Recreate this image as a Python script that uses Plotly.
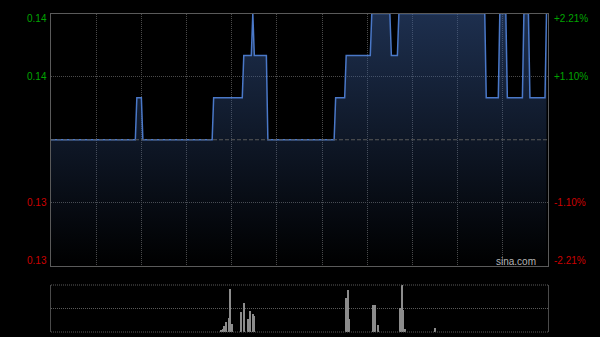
import plotly.graph_objects as go

# ---------------- data ----------------
prev_close = 0.136
price_high = 0.139
price_low = 0.133

# intraday minutes since open (0..330, HK session) and price at those vertices
minutes = [0, 56, 57, 60, 61, 107, 108, 127, 128, 133, 134, 135, 143, 144, 188,
           189, 195, 196, 212, 213, 225, 226, 230, 231, 288, 289, 297, 298, 302,
           303, 313, 314, 317, 318, 328, 329]
prices = [0.136, 0.136, 0.137, 0.137, 0.136, 0.136, 0.137, 0.137, 0.138, 0.138,
          0.139, 0.138, 0.138, 0.136, 0.136, 0.137, 0.137, 0.138, 0.138, 0.139,
          0.139, 0.138, 0.138, 0.139, 0.139, 0.137, 0.137, 0.139, 0.139, 0.137,
          0.137, 0.139, 0.139, 0.137, 0.137, 0.139]

vol_minutes = [113, 114, 115, 116, 118, 119, 120, 126, 128, 131, 132, 134, 135,
               196, 197, 198, 214, 215, 217, 232, 233, 234, 235, 255]
volumes = [13000, 30000, 60000, 97000, 137000, 430000, 83000, 200000, 287000,
           127000, 210000, 177000, 157000, 343000, 420000, 130000, 270000,
           270000, 70000, 240000, 470000, 220000, 30000, 37000]
volume_axis_max = 470000

session_minutes = 330
grid_minutes = [30, 60, 90, 120, 150, 180, 210, 240, 270, 300]
label_prices = [0.139, 0.1375, 0.1345, 0.133]
label_shift = [-5, 0, 0, 6]

# ---------------- figure ----------------
W, H = 600, 337
FONT = "Arial, Liberation Sans, sans-serif"
GREEN = "#00a400"
RED = "#cc0000"
GRID = "#4a4a4a"
DOT = "1px,1px"

x_dom = [51 / W, 548 / W]
price_dom = [(H - 266) / H, (H - 13.5) / H]
vol_dom = [(H - 332) / H, (H - 285) / H]

fig = go.Figure()
fig.add_trace(go.Scatter(
    x=minutes, y=prices, mode="lines",
    line=dict(color="#4a78c8", width=1.5),
    fill="tozeroy",
    fillgradient=dict(type="vertical",
                      colorscale=[[0, "rgba(56,90,150,0)"], [1, "rgba(56,90,150,0.52)"]],
                      start=price_low, stop=price_high),
    xaxis="x", yaxis="y", hoverinfo="skip"))

fig.add_trace(go.Bar(
    x=vol_minutes, y=volumes, width=0.7,
    marker=dict(color="#8c8c8c", line=dict(width=0)),
    xaxis="x2", yaxis="y2", hoverinfo="skip"))

fig.add_shape(type="line", xref="x domain", x0=0, x1=1, yref="y",
              y0=prev_close, y1=prev_close,
              line=dict(color="#5a5a5a", width=1, dash="4px,2px"), layer="above")
# top and bottom dotted frame of the volume panel
for yy in (0, 1):
    fig.add_shape(type="line", xref="x2 domain", x0=0, x1=1, yref="y2 domain",
                  y0=yy, y1=yy, line=dict(color="#5a5a5a", width=1, dash=DOT),
                  layer="above")

annotations = []
for p, s in zip(label_prices, label_shift):
    col = GREEN if p > prev_close else RED
    pct = (p - prev_close) / prev_close * 100
    annotations.append(dict(x=49 / W, xref="paper", y=p, yref="y", yshift=s,
                            text=f"{p:.2f}", showarrow=False, xanchor="right",
                            yanchor="middle", font=dict(family=FONT, size=10, color=col)))
    annotations.append(dict(x=552 / W, xref="paper", y=p, yref="y", yshift=s,
                            text=f"{pct:+.2f}%", showarrow=False, xanchor="left",
                            yanchor="middle", font=dict(family=FONT, size=10, color=col)))
annotations.append(dict(x=538 / W, xref="paper", y=(H - 261.5) / H, yref="paper",
                        text="sina.com", showarrow=False, xanchor="right",
                        yanchor="middle", font=dict(family=FONT, size=10, color="#b4b4b4")))

fig.update_layout(
    width=W, height=H,
    margin=dict(l=0, r=0, t=0, b=0),
    paper_bgcolor="#000000", plot_bgcolor="#000000",
    showlegend=False, bargap=0,
    annotations=annotations,
    xaxis=dict(domain=x_dom, range=[0, session_minutes], anchor="y",
               tickmode="array", tickvals=grid_minutes, showticklabels=False, ticks="",
               showgrid=True, gridcolor=GRID, griddash=DOT, gridwidth=1,
               zeroline=False, showline=True, mirror=True, linecolor="#5a5a5a", linewidth=1),
    yaxis=dict(domain=price_dom, range=[price_low, price_high], anchor="x",
               tickmode="array", tickvals=[0.1345, 0.1375], showticklabels=False, ticks="",
               showgrid=True, gridcolor=GRID, griddash=DOT, gridwidth=1,
               zeroline=False, showline=True, mirror=True, linecolor="#5a5a5a", linewidth=1),
    xaxis2=dict(domain=x_dom, range=[0, session_minutes], anchor="y2",
                showgrid=False, showticklabels=False, ticks="", zeroline=False, showline=False),
    yaxis2=dict(domain=vol_dom, range=[0, volume_axis_max], anchor="x2",
                tickmode="array", tickvals=[volume_axis_max / 2],
                showticklabels=False, ticks="",
                showgrid=True, gridcolor="#5a5a5a", griddash=DOT, gridwidth=1,
                zeroline=False, showline=True, mirror=True, linecolor="#4a4a4a", linewidth=1),
)

fig.write_html("out.html")
